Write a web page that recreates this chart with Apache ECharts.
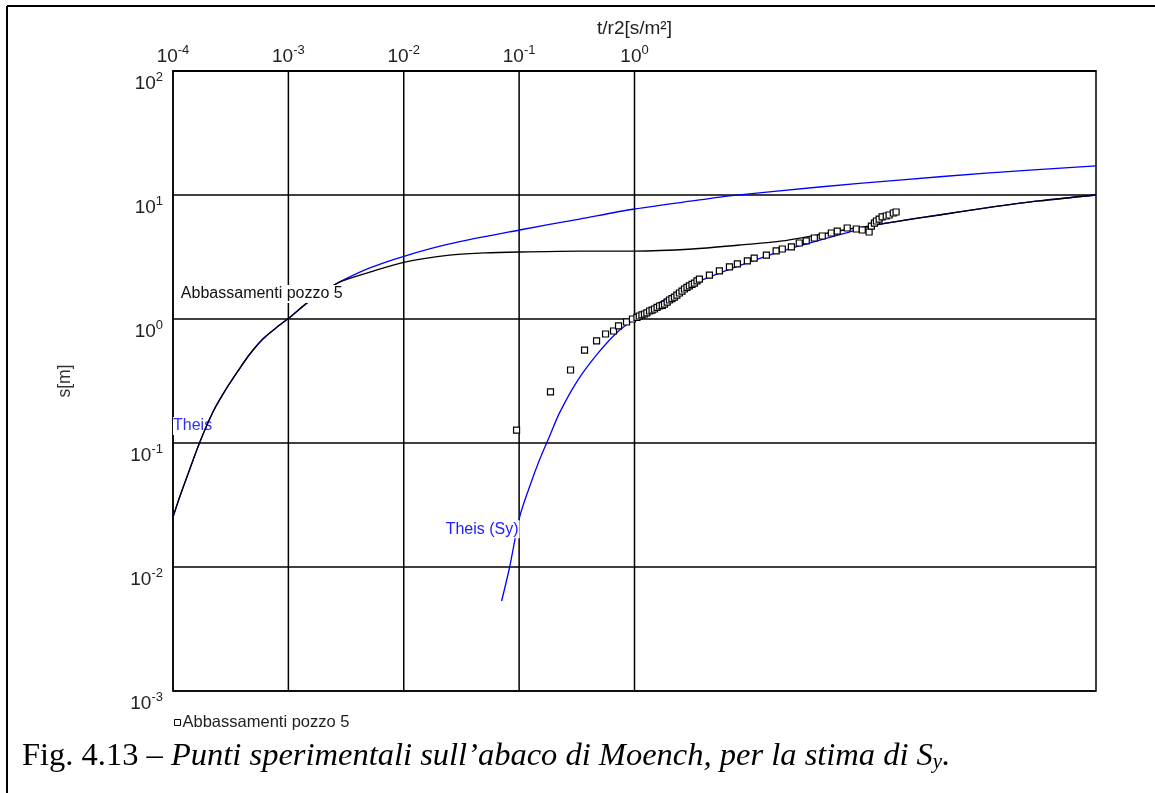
<!DOCTYPE html>
<html>
<head>
<meta charset="utf-8">
<script src="https://cdn.jsdelivr.net/npm/echarts@6/dist/echarts.min.js"></script>
<style>
html,body{margin:0;padding:0;background:#fff;}
#c{width:1155px;height:793px;}
</style>
</head>
<body>
<div id="c"></div>
<script>
// ---- data ----
const xMin = 1e-4, xMax = 1e4, yMin = 1e-3, yMax = 1e2;
const xTickExps = [-4, -3, -2, -1, 0];
const yTickExps = [-3, -2, -1, 0, 1, 2];
const xGridValues = [0.001, 0.01, 0.1, 1];

const moenchX = [1e-4, 1.15e-4, 1.32e-4, 1.71e-4, 2.22e-4, 2.82e-4, 3.66e-4, 4.64e-4, 6.01e-4, 7.80e-4, 1.01e-3, 1.53e-3, 2.07e-3, 2.79e-3, 5.08e-3, 0.0102, 0.025, 0.0503, 0.101, 0.334, 1, 3.18, 8.11, 19.1, 72.7, 140, 437, 1117, 3210, 10000];
const moenchY = [0.0253, 0.0374, 0.0532, 0.102, 0.178, 0.263, 0.381, 0.522, 0.69, 0.846, 1.02, 1.40, 1.68, 1.99, 2.39, 2.88, 3.28, 3.41, 3.47, 3.53, 3.53, 3.67, 3.95, 4.26, 5.32, 5.84, 6.90, 7.86, 8.95, 10.0];

const theisX = [1e-4, 1.15e-4, 1.32e-4, 1.71e-4, 2.22e-4, 2.82e-4, 3.66e-4, 4.64e-4, 6.01e-4, 7.80e-4, 1.01e-3, 1.53e-3, 2.07e-3, 2.79e-3, 5.08e-3, 0.0102, 0.025, 0.101, 0.334, 1, 3.65, 6.65, 40, 197, 1117, 10000];
const theisY = [0.0253, 0.0374, 0.0532, 0.102, 0.178, 0.263, 0.381, 0.522, 0.69, 0.846, 1.02, 1.40, 1.68, 1.99, 2.58, 3.22, 4.03, 5.22, 6.40, 7.71, 9.12, 9.82, 11.6, 13.2, 15.0, 17.2];

const theisSyX = [0.0705, 0.0828, 0.101, 0.123, 0.150, 0.184, 0.224, 0.315, 0.469, 0.698, 1, 1.75, 3.65, 13.9, 32.7, 72.7, 140, 437, 1117, 3210, 10000];
const theisSyY = [0.00532, 0.0100, 0.0253, 0.0442, 0.0729, 0.114, 0.175, 0.310, 0.513, 0.771, 1.0, 1.40, 2.02, 3.22, 4.10, 5.03, 5.84, 6.90, 7.86, 8.95, 10.0];

const obsX = [0.095, 0.187, 0.279, 0.369, 0.469, 0.561, 0.658, 0.727, 0.853, 0.96, 1.05, 1.10, 1.16, 1.22, 1.28, 1.35, 1.42, 1.49, 1.57, 1.65, 1.74, 1.82, 1.92, 2.01, 2.11, 2.22, 2.33, 2.45, 2.58, 2.71, 2.85, 2.99, 3.15, 3.31, 3.48, 3.65, 4.46, 5.44, 6.65, 7.79, 9.51, 10.9, 13.9, 16.9, 19.1, 22.9, 26.8, 30.8, 36.2, 42.4, 50.8, 57.2, 69.8, 83.6, 94.2, 108, 113, 120, 125, 132, 140, 152, 161, 175, 185];
const obsY = [0.127, 0.258, 0.388, 0.562, 0.665, 0.757, 0.80, 0.879, 0.946, 1.0, 1.03, 1.057, 1.08, 1.097, 1.12, 1.16, 1.18, 1.204, 1.24, 1.273, 1.29, 1.32, 1.37, 1.423, 1.46, 1.50, 1.56, 1.62, 1.68, 1.746, 1.80, 1.85, 1.90, 1.95, 2.03, 2.10, 2.26, 2.44, 2.63, 2.78, 2.94, 3.10, 3.28, 3.54, 3.67, 3.81, 4.10, 4.26, 4.50, 4.67, 4.94, 5.12, 5.42, 5.32, 5.22, 5.03, 5.62, 5.94, 6.17, 6.40, 6.65, 6.77, 6.90, 7.16, 7.29];

const curveLabels = ['Abbassamenti pozzo 5', 'Theis', 'Theis (Sy)'];
const curveLabelAnchorX = [1.17e-4, 1e-4, 0.0231];
const curveLabelAnchorY = [1.59, 0.137, 0.0202];
const curveLabelColors = ['#111', '#3030ff', '#2020ff'];

const legendName = 'Abbassamenti pozzo 5';
const xName = 't/r2[s/m\u00B2]';
const yName = 's[m]';
const captionHead = 'Fig. 4.13 \u2013 ';
const captionBody = 'Punti sperimentali sull\u2019abaco di Moench, per la stima di S';
const captionSub = 'y';
const captionEnd = '.';

// ---- chart ----
const zip = (a, b) => a.map((v, i) => [v, b[i]]);
const expOf = v => Math.round(Math.log10(v));
const rich = {
  b: {fontSize: 19, lineHeight: 22, verticalAlign: 'bottom', fontFamily: 'Liberation Sans', color: '#222'},
  s: {fontSize: 13, lineHeight: 10, verticalAlign: 'top', fontFamily: 'Liberation Sans', color: '#222'}
};
const supLabel = e => '{b|10}{s|' + e + '}';

const chart = echarts.init(document.getElementById('c'), null, {renderer: 'canvas'});

const gridSeries = xGridValues.map(v => ({
  name: 'g' + v, type: 'line', data: [[v, yMin], [v, yMax]], showSymbol: false, silent: true, z: 1,
  lineStyle: {color: '#000', width: 1.5}
}));
const curveCommon = {type: 'line', showSymbol: false, smooth: 0.3};

const option = {
  animation: false,
  backgroundColor: '#fff',
  grid: {left: 173, right: 59, top: 71, bottom: 102, show: true, borderColor: '#000', borderWidth: 1.5, backgroundColor: 'transparent'},
  legend: {
    data: [legendName], left: 169, top: 709, itemWidth: 6, itemHeight: 6, icon: 'rect',
    textStyle: {fontSize: 16.5, fontFamily: 'Liberation Sans', color: '#222', padding: [0,0,0,-3]},
    itemStyle: {color: '#fff', borderColor: '#000', borderWidth: 1}
  },
  xAxis: {
    type: 'log', logBase: 10, min: xMin, max: xMax, splitNumber: 8, position: 'top',
    name: xName, nameLocation: 'middle', nameGap: 33, nameMoveOverlap: false,
    nameTextStyle: {fontSize: 19, fontFamily: 'Liberation Sans', color: '#222'},
    axisLine: {show: true, lineStyle: {color: '#000', width: 1.5}},
    axisTick: {show: false}, splitLine: {show: false}, minorSplitLine: {show: false},
    axisLabel: {
      margin: 5, rich: rich, showMinLabel: true, showMaxLabel: true,
      formatter: v => { const e = expOf(v); return xTickExps.indexOf(e) >= 0 ? supLabel(e) : ''; }
    }
  },
  yAxis: {
    type: 'log', logBase: 10, min: yMin, max: yMax, splitNumber: 5,
    name: yName, nameLocation: 'middle', nameGap: 99, nameRotate: 90, nameMoveOverlap: false,
    nameTextStyle: {fontSize: 17.5, fontFamily: 'Liberation Sans', color: '#333'},
    axisLine: {show: true, lineStyle: {color: '#000', width: 1.5}},
    axisTick: {show: false},
    splitLine: {show: true, lineStyle: {color: '#000', width: 1.5}},
    axisLabel: {
      margin: 10, rich: rich, verticalAlign: 'top', showMinLabel: true, showMaxLabel: true,
      formatter: v => { const e = expOf(v); return yTickExps.indexOf(e) >= 0 ? supLabel(e) : ''; }
    }
  },
  series: gridSeries.concat([
    Object.assign({name: 'Theis', data: zip(theisX, theisY), lineStyle: {color: '#0000ff', width: 1.3}, z: 2}, curveCommon),
    Object.assign({name: 'Theis (Sy)', data: zip(theisSyX, theisSyY), lineStyle: {color: '#0000ff', width: 1.3}, z: 2}, curveCommon),
    Object.assign({name: 'Moench', data: zip(moenchX, moenchY), lineStyle: {color: '#000', width: 1.3}, z: 3}, curveCommon),
    {name: legendName, type: 'scatter', data: zip(obsX, obsY), symbol: 'rect', symbolSize: 6,
      itemStyle: {color: '#fff', borderColor: '#000', borderWidth: 1.2, opacity: 1}, z: 4}
  ])
};
chart.setOption(option);

const labelZ = [5, 2, 5];
const gfx = curveLabels.map((t, i) => {
  const p = chart.convertToPixel({gridIndex: 0}, [curveLabelAnchorX[i], curveLabelAnchorY[i]]);
  return {type: 'text', x: p[0], y: p[1], z: labelZ[i],
    style: {text: t, fill: curveLabelColors[i], fontSize: 16, fontFamily: 'Liberation Sans',
      verticalAlign: 'middle', align: 'left', backgroundColor: '#fff', padding: [1, 1, 1, 0]}};
});
// frame lines
gfx.push({type: 'line', z: 10, shape: {x1: 7, y1: 6, x2: 1155, y2: 6}, style: {stroke: '#000', lineWidth: 2}});
gfx.push({type: 'line', z: 10, shape: {x1: 7, y1: 6, x2: 7, y2: 793}, style: {stroke: '#000', lineWidth: 2}});
// caption
gfx.push({type: 'text', left: 22, top: 740, z: 10,
  style: {
    text: '{n|' + captionHead + '}{i|' + captionBody + '}{sub|' + captionSub + '}{i|' + captionEnd + '}',
    rich: {
      n: {fontSize: 32.5, fontFamily: 'Liberation Serif', fill: '#000', lineHeight: 38, verticalAlign: 'bottom'},
      i: {fontSize: 32.5, fontFamily: 'Liberation Serif', fontStyle: 'italic', fill: '#000', lineHeight: 38, verticalAlign: 'bottom'},
      sub: {fontSize: 21, fontFamily: 'Liberation Serif', fontStyle: 'italic', fill: '#000', lineHeight: 26, verticalAlign: 'bottom'}
    }
  }});
chart.setOption({graphic: gfx});
</script>
</body>
</html>
